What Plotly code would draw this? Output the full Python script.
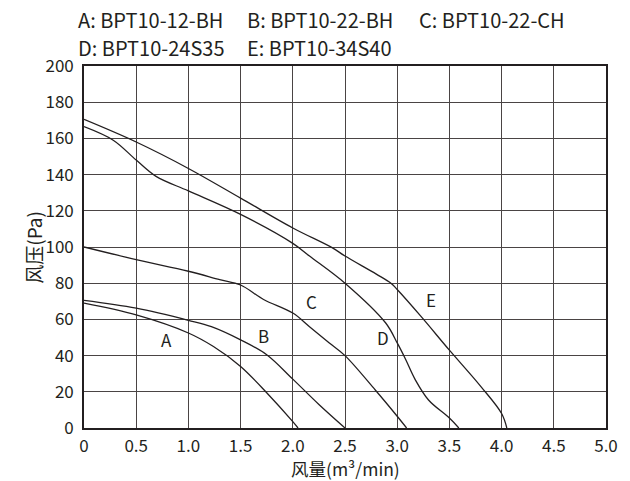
import plotly.graph_objects as go

# ---- data ----
x_tick_vals = [0, 0.5, 1.0, 1.5, 2.0, 2.5, 3.0, 3.5, 4.0, 4.5, 5.0]
x_tick_text = ["0", "0.5", "1.0", "1.5", "2.0", "2.5", "3.0", "3.5", "4.0", "4.5", "5.0"]
y_tick_vals = [0, 20, 40, 60, 80, 100, 120, 140, 160, 180, 200]

A_x = [0, 0.5, 1.0, 1.24, 1.5, 1.75, 2.0, 2.05]
A_y = [69, 62.5, 52.5, 45, 34, 19.5, 3.5, 0]
B_x = [0, 0.5, 1.0, 1.22, 1.5, 1.75, 2.0, 2.25, 2.5]
B_y = [70.5, 66.2, 59.5, 56, 48.7, 40.5, 27, 13, 0]
C_x = [0, 0.5, 1.0, 1.3, 1.5, 1.72, 2.0, 2.16, 2.35, 2.5, 2.79, 3.0, 3.09]
C_y = [100, 93, 86.6, 82, 79, 71, 63.5, 56, 47, 40, 21, 6.5, 0]
D_x = [0, 0.28, 0.5, 0.69, 1.0, 1.5, 2.0, 2.16, 2.5, 2.89, 3.0, 3.08, 3.17, 3.3, 3.5, 3.59]
D_y = [166.5, 159, 148, 139, 131, 118, 102, 95, 80, 58, 47, 38, 27, 15.5, 5.5, 0]
E_x = [0, 0.5, 1.0, 1.5, 2.0, 2.38, 2.5, 2.8, 2.94, 3.0, 3.23, 3.5, 3.8, 4.0, 4.05]
E_y = [170.5, 158, 143.4, 127, 110.5, 99.5, 95, 85, 80, 76.5, 61.5, 43, 23, 8, 0]

series = [("A", A_x, A_y), ("B", B_x, B_y), ("C", C_x, C_y), ("D", D_x, D_y), ("E", E_x, E_y)]
curve_labels = ["A", "B", "C", "D", "E"]
label_x = [0.79, 1.72, 2.18, 2.86, 3.32]
label_y = [49, 51, 70, 50, 71]
legend_texts = ["A: BPT10-12-BH", "B: BPT10-22-BH", "C: BPT10-22-CH",
                "D: BPT10-24S35", "E: BPT10-34S40"]
x_title = "风量(m³/min)"
y_title = "风压(Pa)"

FONT = "Noto Sans CJK SC"
INK = "#231f20"

fig = go.Figure()
for name, xs, ys in series:
    fig.add_trace(go.Scatter(x=xs, y=ys, mode="lines", name=name,
                             line=dict(color=INK, width=1.3, shape="spline", smoothing=1.0),
                             showlegend=False, hoverinfo="skip"))

ann = []
for t, lx, ly in zip(curve_labels, label_x, label_y):
    ann.append(dict(x=lx, y=ly, xref="x", yref="y", text=t, showarrow=False,
                    font=dict(family=FONT, size=17, color=INK)))

# header texts (pixel positions converted to paper)
L, R, T, B = 84, 613, 66, 428
W, H = R - L, B - T
def px(xp):
    return (xp - L) / W
def py(yp):
    return (B - yp) / H
legend_pos = [(76, 19), (247, 19), (421, 19), (76, 47), (247, 47)]
for t, (xp, yp) in zip(legend_texts, legend_pos):
    ann.append(dict(x=px(xp), y=py(yp), xref="paper", yref="paper", text=t,
                    showarrow=False, xanchor="left", yanchor="middle",
                    font=dict(family=FONT, size=20, color=INK)))
ann.append(dict(x=px(349), y=py(468.5), xref="paper", yref="paper", text=x_title,
                showarrow=False, xanchor="center", yanchor="middle",
                font=dict(family=FONT, size=17.5, color=INK)))
ann.append(dict(x=px(32), y=py(247), xref="paper", yref="paper", text=y_title,
                showarrow=False, xanchor="center", yanchor="middle", textangle=-90,
                font=dict(family=FONT, size=19, color=INK)))

fig.update_layout(
    width=630, height=481,
    margin=dict(l=L, r=630 - R, t=T, b=481 - B),
    paper_bgcolor="white", plot_bgcolor="white",
    font=dict(family=FONT, size=17, color=INK),
    annotations=ann,
    xaxis=dict(range=[0, 5.0], tickvals=x_tick_vals, ticktext=x_tick_text,
               showgrid=True, gridcolor="#4a4444", gridwidth=1,
               showline=True, linecolor=INK, linewidth=1.6, mirror=True,
               ticks="", zeroline=False, ticklabelstandoff=2,
               tickfont=dict(family=FONT, size=17, color=INK)),
    yaxis=dict(range=[0, 200], tickvals=y_tick_vals,
               showgrid=True, gridcolor="#4a4444", gridwidth=1,
               showline=True, linecolor=INK, linewidth=1.6, mirror=True,
               ticks="", zeroline=False, ticklabelstandoff=5,
               tickfont=dict(family=FONT, size=17, color=INK)),
)

fig.write_html("out.html",
               config={"displayModeBar": False},
               post_script="document.body.style.margin='0px';"
                           "document.documentElement.style.overflow='hidden';")
